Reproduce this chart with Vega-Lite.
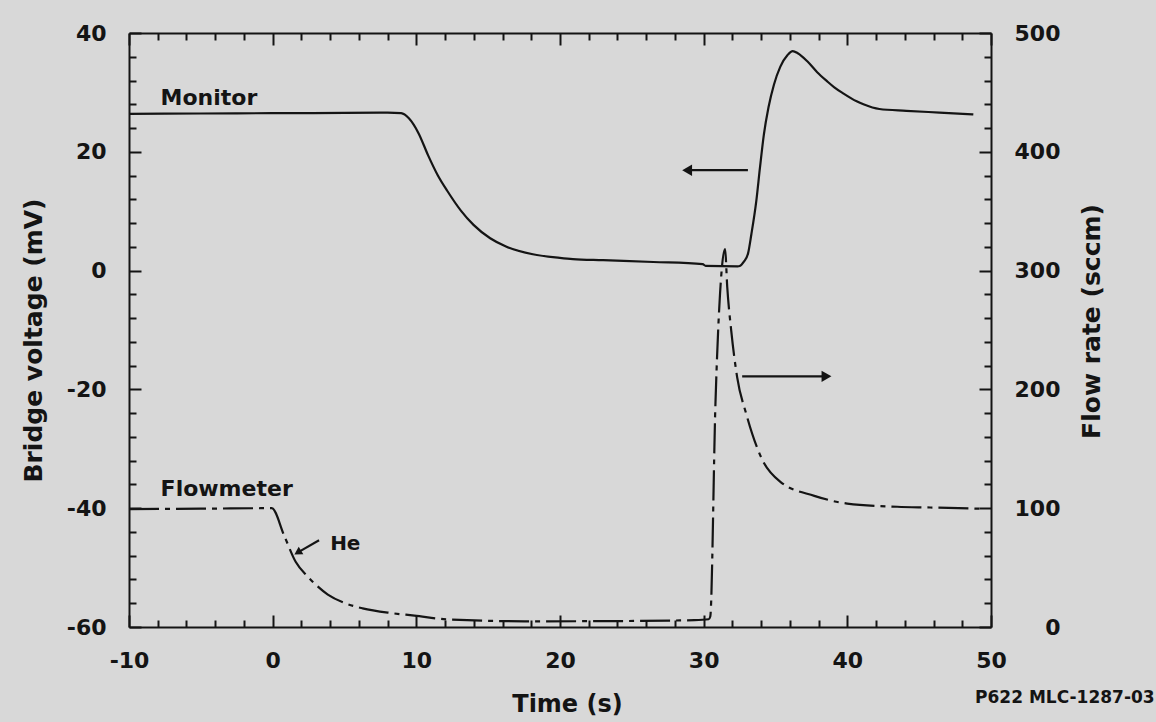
{
  "$schema": "https://vega.github.io/schema/vega-lite/v6.json",
  "width": 862,
  "height": 594,
  "autosize": "none",
  "padding": {"left": 129, "top": 33, "right": 165, "bottom": 95},
  "background": "#d8d8d8",
  "config": {
    "view": {"stroke": null},
    "font": "DejaVu Sans",
    "axis": {
      "grid": false,
      "domainColor": "#141414",
      "domainWidth": 2,
      "tickColor": "#141414",
      "tickWidth": 2,
      "labelColor": "#141414",
      "labelFont": "DejaVu Sans",
      "labelFontWeight": "bold",
      "labelFontSize": 22,
      "labelFlush": false,
      "labelOverlap": false,
      "labelBound": false,
      "labelExpr": "datum.value < 0 ? '-' + abs(datum.value) : '' + datum.value",
      "titleColor": "#141414",
      "titleFont": "DejaVu Sans",
      "titleFontWeight": "bold",
      "titleFontSize": 25
    }
  },
  "datasets": {
    "monitor": [
      {"t": -10, "mv": 26.4}, {"t": -5, "mv": 26.45}, {"t": 0, "mv": 26.5}, {"t": 5, "mv": 26.55},
      {"t": 8.0, "mv": 26.6}, {"t": 8.94, "mv": 26.5}, {"t": 9.48, "mv": 25.65}, {"t": 10.16, "mv": 23.1},
      {"t": 10.82, "mv": 19.4}, {"t": 11.48, "mv": 16.1}, {"t": 12.16, "mv": 13.4}, {"t": 13.1, "mv": 10.1},
      {"t": 13.98, "mv": 7.7}, {"t": 15.14, "mv": 5.45}, {"t": 16.24, "mv": 4.06}, {"t": 18.11, "mv": 2.76},
      {"t": 19.99, "mv": 2.15}, {"t": 20.89, "mv": 1.94}, {"t": 23, "mv": 1.75}, {"t": 26.5, "mv": 1.45},
      {"t": 29.93, "mv": 1.09}, {"t": 30.14, "mv": 0.8}, {"t": 32.37, "mv": 0.72}, {"t": 32.51, "mv": 0.77},
      {"t": 32.8, "mv": 1.5}, {"t": 33.09, "mv": 2.9}, {"t": 33.32, "mv": 6.12}, {"t": 33.66, "mv": 11.66},
      {"t": 33.92, "mv": 17.37}, {"t": 34.19, "mv": 22.9}, {"t": 34.51, "mv": 27.46}, {"t": 34.89, "mv": 31.3},
      {"t": 35.33, "mv": 34.3}, {"t": 35.84, "mv": 36.3}, {"t": 36.2, "mv": 36.95}, {"t": 36.55, "mv": 36.6},
      {"t": 37.23, "mv": 35.2}, {"t": 37.9, "mv": 33.4}, {"t": 38.58, "mv": 31.9}, {"t": 39.07, "mv": 30.9},
      {"t": 39.74, "mv": 29.8}, {"t": 40.65, "mv": 28.5}, {"t": 41.12, "mv": 28.0}, {"t": 42.23, "mv": 27.2},
      {"t": 44.11, "mv": 26.9}, {"t": 46.41, "mv": 26.6}, {"t": 48.77, "mv": 26.3}
    ],
    "flow": [
      {"t": -10, "sccm": 99.3}, {"t": -5, "sccm": 99.6}, {"t": -0.06, "sccm": 100}, {"t": 0.8, "sccm": 77},
      {"t": 1.6, "sccm": 54.9}, {"t": 2.41, "sccm": 42.8}, {"t": 2.82, "sccm": 37.7}, {"t": 3.84, "sccm": 27.3},
      {"t": 5.01, "sccm": 20.2}, {"t": 6.26, "sccm": 15.7}, {"t": 8.27, "sccm": 11.7}, {"t": 9.87, "sccm": 9.6},
      {"t": 12.16, "sccm": 6.4}, {"t": 17.7, "sccm": 4.8}, {"t": 24, "sccm": 5}, {"t": 29.36, "sccm": 5.8},
      {"t": 30.35, "sccm": 6.5}, {"t": 30.46, "sccm": 8.8}, {"t": 30.82, "sccm": 188}, {"t": 31.14, "sccm": 280.7},
      {"t": 31.49, "sccm": 318}, {"t": 31.64, "sccm": 286.4}, {"t": 31.92, "sccm": 249.3}, {"t": 32.33, "sccm": 210.4},
      {"t": 32.97, "sccm": 179.1}, {"t": 34.01, "sccm": 142.6}, {"t": 35.36, "sccm": 122}, {"t": 37.7, "sccm": 110.4},
      {"t": 39.99, "sccm": 103.9}, {"t": 43.47, "sccm": 101.2}, {"t": 45.77, "sccm": 100.6}, {"t": 49.53, "sccm": 99.5}
    ],
    "labels": [
      {"t": -7.8, "mv": 29.0, "text": "Monitor"},
      {"t": -7.8, "mv": -36.7, "text": "Flowmeter"}
    ],
    "helabel": [{"t": 4.0, "mv": -46.1, "text": "He"}],
    "note": [{"t": 48.89, "mv": -71.95, "text": "P622 MLC-1287-03"}],
    "arrows": [
      {"t": 33.08, "mv": 16.9, "t2": 29.0, "mv2": 16.9},
      {"t": 32.68, "mv": -17.8, "t2": 38.4, "mv2": -17.8},
      {"t": 3.23, "mv": -45.4, "t2": 1.82, "mv2": -47.35}
    ],
    "headLeft": [{"t": 28.85, "mv": 16.9}],
    "headRight": [{"t": 38.55, "mv": -17.8}],
    "headHe": [{"t": 1.82, "mv": -47.35}]
  },
  "layer": [
    {
      "layer": [
        {
          "data": {"name": "monitor"},
          "mark": {"type": "line", "color": "#141414", "strokeWidth": 2.2, "interpolate": "monotone"},
          "encoding": {
            "x": {
              "field": "t", "type": "quantitative",
              "scale": {"domain": [-10, 50], "nice": false, "zero": false},
              "axis": {
                "orient": "bottom",
                "values": [-10, 0, 10, 20, 30, 40, 50],
                "tickSize": -12,
                "labelPadding": 35,
                "title": "Time (s)",
                "titleX": 438, "titleY": 77, "titleBaseline": "middle", "titleAlign": "center", "titleFontSize": 24
              }
            },
            "y": {
              "field": "mv", "type": "quantitative",
              "scale": {"domain": [-60, 40], "nice": false, "zero": false},
              "axis": {
                "orient": "left",
                "values": [-60, -40, -20, 0, 20, 40],
                "tickSize": -12,
                "labelPadding": 35,
                "title": "Bridge voltage (mV)",
                "titleX": -96, "titleY": 307, "titleAngle": 270, "titleBaseline": "middle", "titleAlign": "center"
              }
            }
          }
        },
        {
          "data": {"name": "labels"},
          "mark": {"type": "text", "align": "left", "baseline": "middle", "font": "DejaVu Sans", "fontWeight": "bold", "fontSize": 22, "color": "#141414"},
          "encoding": {
            "x": {"field": "t", "type": "quantitative", "scale": {"domain": [-10, 50], "nice": false, "zero": false}},
            "y": {"field": "mv", "type": "quantitative", "scale": {"domain": [-60, 40], "nice": false, "zero": false}},
            "text": {"field": "text"}
          }
        },
        {
          "data": {"name": "helabel"},
          "mark": {"type": "text", "align": "left", "baseline": "middle", "font": "DejaVu Sans", "fontWeight": "bold", "fontSize": 20, "color": "#141414"},
          "encoding": {
            "x": {"field": "t", "type": "quantitative", "scale": {"domain": [-10, 50], "nice": false, "zero": false}},
            "y": {"field": "mv", "type": "quantitative", "scale": {"domain": [-60, 40], "nice": false, "zero": false}},
            "text": {"field": "text"}
          }
        },
        {
          "data": {"name": "note"},
          "mark": {"type": "text", "align": "left", "baseline": "middle", "font": "DejaVu Sans", "fontWeight": "bold", "fontSize": 17, "color": "#141414"},
          "encoding": {
            "x": {"field": "t", "type": "quantitative", "scale": {"domain": [-10, 50], "nice": false, "zero": false}},
            "y": {"field": "mv", "type": "quantitative", "scale": {"domain": [-60, 40], "nice": false, "zero": false}},
            "text": {"field": "text"}
          }
        },
        {
          "data": {"name": "arrows"},
          "mark": {"type": "rule", "color": "#141414", "strokeWidth": 2.2},
          "encoding": {
            "x": {"field": "t", "type": "quantitative", "scale": {"domain": [-10, 50], "nice": false, "zero": false}},
            "y": {"field": "mv", "type": "quantitative", "scale": {"domain": [-60, 40], "nice": false, "zero": false}},
            "x2": {"field": "t2"},
            "y2": {"field": "mv2"}
          }
        },
        {
          "data": {"name": "headLeft"},
          "mark": {"type": "point", "shape": "triangle-left", "filled": true, "size": 130, "color": "#141414", "opacity": 1},
          "encoding": {
            "x": {"field": "t", "type": "quantitative", "scale": {"domain": [-10, 50], "nice": false, "zero": false}},
            "y": {"field": "mv", "type": "quantitative", "scale": {"domain": [-60, 40], "nice": false, "zero": false}}
          }
        },
        {
          "data": {"name": "headRight"},
          "mark": {"type": "point", "shape": "triangle-right", "filled": true, "size": 130, "color": "#141414", "opacity": 1},
          "encoding": {
            "x": {"field": "t", "type": "quantitative", "scale": {"domain": [-10, 50], "nice": false, "zero": false}},
            "y": {"field": "mv", "type": "quantitative", "scale": {"domain": [-60, 40], "nice": false, "zero": false}}
          }
        },
        {
          "data": {"name": "headHe"},
          "mark": {"type": "point", "shape": "triangle", "angle": 239, "filled": true, "size": 80, "color": "#141414", "opacity": 1},
          "encoding": {
            "x": {"field": "t", "type": "quantitative", "scale": {"domain": [-10, 50], "nice": false, "zero": false}},
            "y": {"field": "mv", "type": "quantitative", "scale": {"domain": [-60, 40], "nice": false, "zero": false}}
          }
        }
      ]
    },
    {
      "layer": [
        {
          "data": {"name": "flow"},
          "mark": {"type": "line", "color": "#141414", "strokeWidth": 2.2, "interpolate": "monotone", "strokeDash": [30, 6, 5, 6]},
          "encoding": {
            "x": {
              "field": "t", "type": "quantitative",
              "scale": {"domain": [-10, 50], "nice": false, "zero": false},
              "axis": {
                "orient": "top",
                "values": [-10, 0, 10, 20, 30, 40, 50],
                "labels": false,
                "tickSize": -12,
                "title": null
              }
            },
            "y": {
              "field": "sccm", "type": "quantitative",
              "scale": {"domain": [0, 500], "nice": false, "zero": false},
              "axis": {
                "orient": "right",
                "values": [0, 100, 200, 300, 400, 500],
                "tickSize": -12,
                "labelAlign": "right",
                "labelPadding": 81,
                "title": "Flow rate (sccm)",
                "titleX": 100, "titleY": 288, "titleAngle": 270, "titleBaseline": "middle", "titleAlign": "center"
              }
            }
          }
        }
      ]
    },
    {
      "layer": [
        {
          "data": {"name": "monitor"},
          "mark": {"type": "line", "opacity": 0},
          "encoding": {
            "x": {
              "field": "t", "type": "quantitative",
              "scale": {"domain": [-10, 50], "nice": false, "zero": false},
              "axis": {
                "orient": "bottom",
                "values": [-8,-6,-4,-2,2,4,6,8,12,14,16,18,22,24,26,28,32,34,36,38,42,44,46,48],
                "labels": false, "domain": false, "tickSize": -7, "title": null
              }
            },
            "y": {
              "field": "mv", "type": "quantitative",
              "scale": {"domain": [-60, 40], "nice": false, "zero": false},
              "axis": {
                "orient": "left",
                "values": [-56,-52,-48,-44,-36,-32,-28,-24,-16,-12,-8,-4,4,8,12,16,24,28,32,36],
                "labels": false, "domain": false, "tickSize": -7, "title": null
              }
            }
          }
        }
      ]
    },
    {
      "layer": [
        {
          "data": {"name": "flow"},
          "mark": {"type": "line", "opacity": 0},
          "encoding": {
            "x": {
              "field": "t", "type": "quantitative",
              "scale": {"domain": [-10, 50], "nice": false, "zero": false},
              "axis": {
                "orient": "top",
                "values": [-8,-6,-4,-2,2,4,6,8,12,14,16,18,22,24,26,28,32,34,36,38,42,44,46,48],
                "labels": false, "domain": false, "tickSize": -7, "title": null
              }
            },
            "y": {
              "field": "sccm", "type": "quantitative",
              "scale": {"domain": [0, 500], "nice": false, "zero": false},
              "axis": {
                "orient": "right",
                "values": [20,40,60,80,120,140,160,180,220,240,260,280,320,340,360,380,420,440,460,480],
                "labels": false, "domain": false, "tickSize": -7, "title": null
              }
            }
          }
        }
      ]
    }
  ],
  "resolve": {"scale": {"y": "independent"}, "axis": {"x": "independent", "y": "independent"}}
}
